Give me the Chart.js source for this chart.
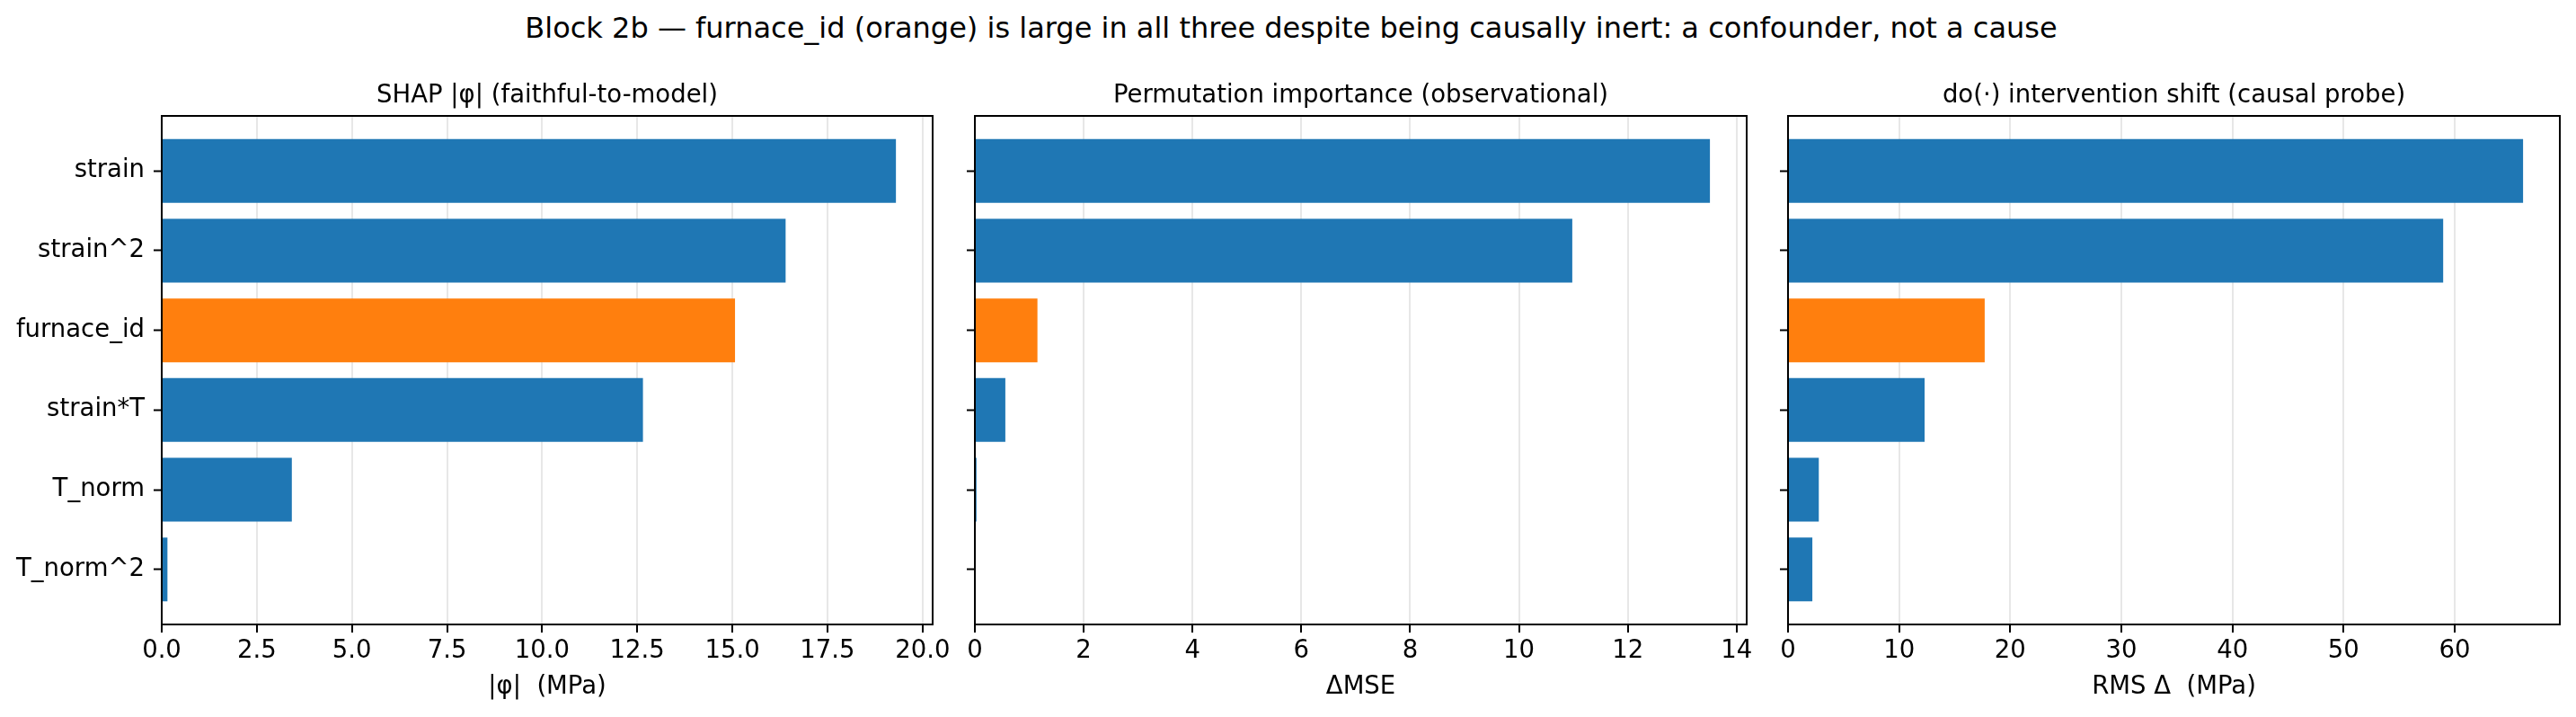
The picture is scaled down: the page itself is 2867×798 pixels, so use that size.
<!DOCTYPE html>
<html>
<head>
<meta charset="utf-8">
<title>Block 2b - furnace_id</title>
<script src="https://cdn.jsdelivr.net/npm/chart.js@4.4.1/dist/chart.umd.min.js"></script>
<style>
  html, body { margin: 0; padding: 0; background: #fff; overflow: hidden; }
  #page { position: relative; width: 2867px; height: 798px; overflow: hidden;
          font-family: "DejaVu Sans", sans-serif; }
  #suptitle { position: absolute; left: 0; width: 2874px; top: 13px; text-align: center;
              font-size: 32px; line-height: 36px; color: #000; white-space: pre; }
  canvas { position: absolute; top: 80px; }
</style>
</head>
<body>
<div id="page">
  <div id="suptitle">Block 2b — furnace_id (orange) is large in all three despite being causally inert: a confounder, not a cause</div>
  <canvas id="shap" width="1068" height="718" style="left:0px"></canvas>
  <canvas id="perm" width="929" height="718" style="left:1045px"></canvas>
  <canvas id="dox" width="917" height="718" style="left:1950px"></canvas>
</div>
<script>
// features top -> bottom
const features = ["strain", "strain^2", "furnace_id", "strain*T", "T_norm", "T_norm^2"];
const shapValues = [19.3, 16.4, 15.07, 12.65, 3.42, 0.15];
const permValues = [13.51, 10.98, 1.15, 0.56, 0.03, 0.003];
const doValues = [66.15, 58.96, 17.7, 12.29, 2.77, 2.19];

const shapTicks = [0, 2.5, 5, 7.5, 10, 12.5, 15, 17.5, 20];
const permTicks = [0, 2, 4, 6, 8, 10, 12, 14];
const doTicks = [0, 10, 20, 30, 40, 50, 60];

const confounder = "furnace_id";

const BLUE = "#1f77b4";
const ORANGE = "#ff7f0e";

Chart.defaults.font.family = "'DejaVu Sans', sans-serif";
Chart.defaults.font.size = 27.5;
Chart.defaults.color = "#000";

// matplotlib-like box around the axes plus the panel title above it
const framePlugin = {
  id: "frame",
  afterDraw(chart, args, opts) {
    const { ctx, chartArea: a } = chart;
    ctx.save();
    ctx.strokeStyle = "#000";
    ctx.lineWidth = 2;
    ctx.strokeRect(a.left, a.top, a.right - a.left, a.bottom - a.top);
    ctx.fillStyle = "#000";
    ctx.font = "27.5px 'DejaVu Sans', sans-serif";
    ctx.textAlign = "center";
    ctx.textBaseline = "alphabetic";
    ctx.fillText(opts.text, (a.left + a.right) / 2, a.top - 15);
    ctx.restore();
  }
};

function makePanel(id, title, xLabel, values, ticks, fmt, showLabels, yWidth, padRight) {
  const n = features.length;
  const yPad = 0.05 * (n - 1 + 0.8);
  return new Chart(document.getElementById(id), {
    type: "bar",
    data: {
      datasets: [{
        data: values.map((v, i) => ({ x: v, y: i })),
        backgroundColor: features.map(f => f === confounder ? ORANGE : BLUE),
        borderWidth: 0,
        barPercentage: 1.0,
        categoryPercentage: 0.8
      }]
    },
    options: {
      indexAxis: "y",
      responsive: false,
      devicePixelRatio: 1,
      animation: false,
      layout: { padding: { top: 49, right: padRight, bottom: 0, left: 0 } },
      plugins: {
        legend: { display: false },
        tooltip: { enabled: false },
        frame: { text: title }
      },
      scales: {
        x: {
          type: "linear",
          min: 0,
          max: Math.max(...values) * 1.05,
          z: 1,
          afterBuildTicks: s => { s.ticks = ticks.map(v => ({ value: v })); },
          afterFit: s => { s.height = 103; },
          ticks: { padding: 4, callback: v => fmt(v), maxRotation: 0, autoSkip: false },
          grid: {
            color: "rgba(176,176,176,0.3)",
            lineWidth: 2,
            tickColor: "#000",
            tickWidth: 2,
            tickLength: 9
          },
          border: { display: false },
          title: { display: true, text: xLabel, padding: { top: 4, bottom: 17 } }
        },
        y: {
          type: "linear",
          reverse: true,
          offset: false,
          min: -0.4 - yPad,
          max: n - 1 + 0.4 + yPad,
          afterBuildTicks: s => { s.ticks = features.map((f, i) => ({ value: i })); },
          afterFit: s => { s.width = yWidth; },
          ticks: {
            display: showLabels,
            padding: 10,
            autoSkip: false,
            callback: v => features[v]
          },
          grid: {
            offset: false,
            drawOnChartArea: false,
            color: "#000",
            tickColor: "#000",
            tickWidth: 2,
            tickLength: 9
          },
          border: { display: false }
        }
      }
    },
    plugins: [framePlugin]
  });
}

makePanel("shap", "SHAP |φ| (faithful-to-model)", "|φ|  (MPa)",
  shapValues, shapTicks, v => v.toFixed(1), true, 180, 30);
makePanel("perm", "Permutation importance (observational)", "ΔMSE",
  permValues, permTicks, v => String(v), false, 40, 30);
makePanel("dox", "do(·) intervention shift (causal probe)", "RMS Δ  (MPa)",
  doValues, doTicks, v => String(v), false, 40, 18);
</script>
</body>
</html>
